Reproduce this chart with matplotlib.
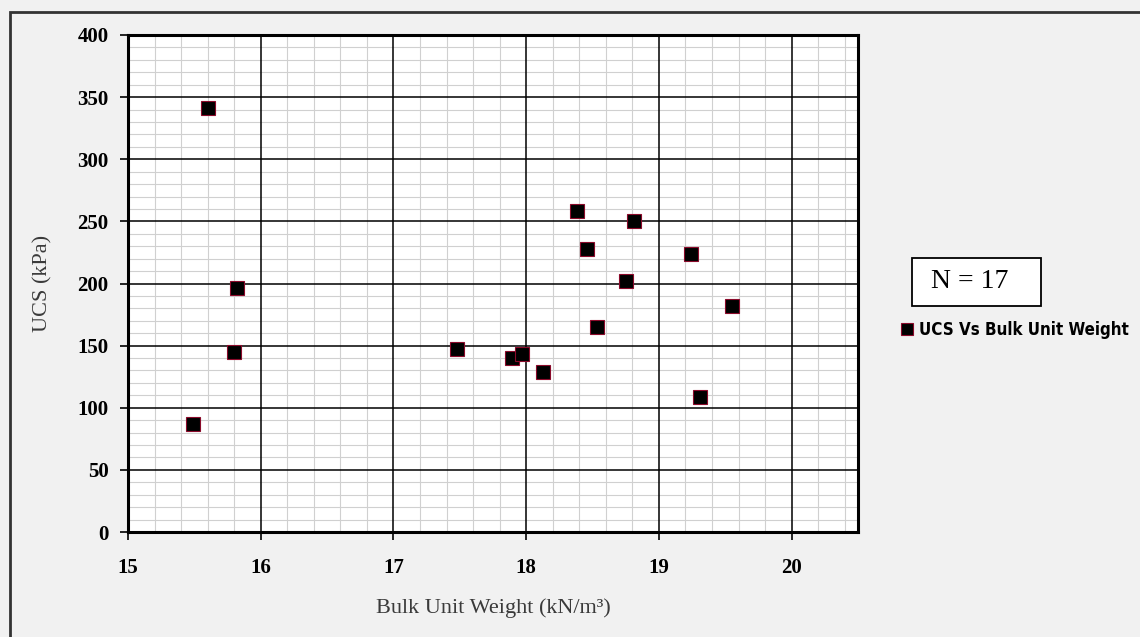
import numpy as np
import matplotlib.pyplot as plt
from matplotlib.patches import Rectangle
from matplotlib.ticker import MultipleLocator

# Bulk unit weight (kN/m3) and UCS (kPa) for each sample
bulk_unit_weight = [15.60, 15.82, 15.80, 15.49, 17.48, 17.89, 17.97, 18.13, 18.38,
                    18.46, 18.53, 18.75, 18.81, 19.24, 19.31, 19.55]
ucs = [341, 196, 145, 87, 147, 140, 143, 129, 258,
       228, 165, 202, 250, 224, 109, 182]
SERIES_NAME = "UCS Vs Bulk Unit Weight"
N_TEXT = "N = 17"
X_LABEL = "Bulk Unit Weight (kN/m\u00b3)"
Y_LABEL = "UCS (kPa)"

W, H = 1140, 637
fig = plt.figure(figsize=(W / 100, H / 100), dpi=100, facecolor="#f1f1f1")
ax = fig.add_axes([128 / W, 1 - 532 / H, 730 / W, 497 / H])
ax.set_facecolor("white")

ax.plot(bulk_unit_weight, ucs, linestyle="none", marker="s", markersize=9.5,
        markerfacecolor="black", markeredgecolor="#8a0a2a", markeredgewidth=0.8,
        label=SERIES_NAME, zorder=5)

ax.set_xlim(15, 20.5)
ax.set_ylim(0, 400)
ax.xaxis.set_major_locator(MultipleLocator(1))
ax.xaxis.set_minor_locator(MultipleLocator(0.2))
ax.yaxis.set_major_locator(MultipleLocator(50))
ax.yaxis.set_minor_locator(MultipleLocator(10))
ax.grid(which="minor", color="#d0d0d0", linewidth=0.8, zorder=0)

# major grid drawn on top of the minor one
for xv in np.arange(16, 20.5, 1):
    ax.axvline(xv, color="black", linewidth=1.1, zorder=1)
for yv in np.arange(50, 400, 50):
    ax.axhline(yv, color="black", linewidth=1.1, zorder=1)
ax.set_axisbelow(True)

for sp in ax.spines.values():
    sp.set_linewidth(2.2)
    sp.set_color("black")

ax.tick_params(which="major", direction="out", length=6, width=1.2)
ax.tick_params(which="minor", length=0)
ax.tick_params(axis="y", pad=8)
ax.tick_params(axis="x", pad=13)
for lbl in ax.get_xticklabels() + ax.get_yticklabels():
    lbl.set_fontfamily("Liberation Serif")
    lbl.set_fontweight("bold")
    lbl.set_fontsize(15)

ax.set_xlabel(X_LABEL, fontfamily="Liberation Serif", fontsize=16, color="#3a3a3a", labelpad=14)
ax.set_ylabel(Y_LABEL, fontfamily="Liberation Serif", fontsize=16, color="#3a3a3a", labelpad=18)

# outer chart frame
fig.patches.append(Rectangle((10 / W, -0.05), 1.1, 1 - 12 / H + 0.05, transform=fig.transFigure,
                             fill=False, edgecolor="#333333", linewidth=2))

# sample count box
fig.patches.append(Rectangle((912 / W, 1 - 306 / H), 129 / W, 48 / H, transform=fig.transFigure,
                             facecolor="white", edgecolor="black", linewidth=1.3))
fig.text(931 / W, 1 - 282 / H, N_TEXT, fontfamily="Liberation Serif", fontsize=20,
         ha="left", va="center")

fig.legend(loc="center left", bbox_to_anchor=(894 / W, 1 - 330 / H), frameon=False,
           handlelength=0.5, handletextpad=0.45, borderpad=0, markerscale=0.85,
           prop={"family": "DejaVu Sans", "stretch": "condensed", "weight": "bold", "size": 12.2})

fig.savefig("out.png", dpi=100, facecolor=fig.get_facecolor())
